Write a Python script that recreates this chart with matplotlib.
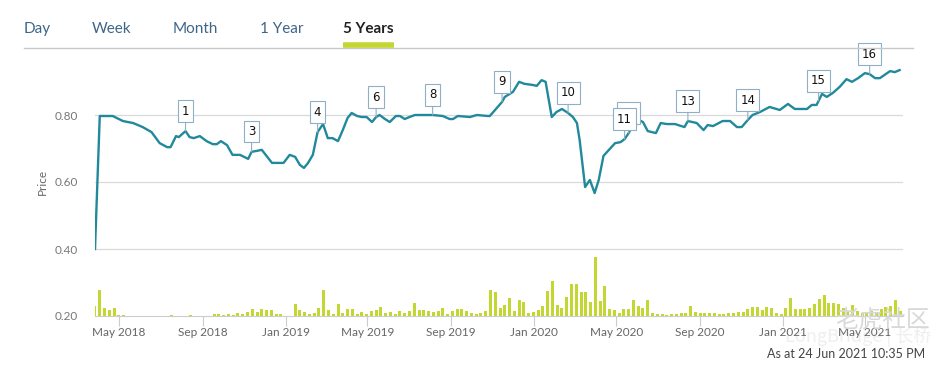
import numpy as np
import pandas as pd
import matplotlib
matplotlib.use("Agg")
import matplotlib.pyplot as plt
import matplotlib.dates as mdates

plt.rcParams['font.family'] = ['Lato', 'Noto Sans CJK SC', 'DejaVu Sans']

# weekly-ish closing prices
price_dates = [
    "2018-03-27", "2018-04-03", "2018-04-22", "2018-05-07", "2018-05-22", "2018-06-05",
    "2018-06-18", "2018-06-30", "2018-07-11", "2018-07-16", "2018-07-24", "2018-07-28",
    "2018-08-07", "2018-08-13", "2018-08-19", "2018-08-28", "2018-09-07", "2018-09-16",
    "2018-09-22", "2018-09-28", "2018-10-07", "2018-10-15", "2018-10-26", "2018-11-07",
    "2018-11-12", "2018-11-20", "2018-11-27", "2018-12-12", "2018-12-24", "2018-12-29",
    "2019-01-07", "2019-01-15", "2019-01-22", "2019-01-28", "2019-02-03", "2019-02-10",
    "2019-02-17", "2019-02-25", "2019-03-04", "2019-03-11", "2019-03-19", "2019-03-26",
    "2019-04-02", "2019-04-08", "2019-04-16", "2019-04-23", "2019-04-30", "2019-05-08",
    "2019-05-14", "2019-05-19", "2019-05-27", "2019-06-03", "2019-06-12", "2019-06-18",
    "2019-06-25", "2019-07-02", "2019-07-10", "2019-08-05", "2019-08-20", "2019-08-30",
    "2019-09-04", "2019-09-11", "2019-09-29", "2019-10-09", "2019-10-25", "2019-10-28",
    "2019-11-15", "2019-11-19", "2019-12-01", "2019-12-10", "2019-12-18", "2019-12-29",
    "2020-01-05", "2020-01-12", "2020-01-18", "2020-01-27", "2020-02-03", "2020-02-11",
    "2020-02-20", "2020-02-27", "2020-03-04", "2020-03-08", "2020-03-16", "2020-03-23",
    "2020-03-30", "2020-04-05", "2020-04-12", "2020-04-20", "2020-04-29", "2020-05-07",
    "2020-05-13", "2020-05-19", "2020-05-25", "2020-06-03", "2020-06-09", "2020-06-16",
    "2020-06-28", "2020-07-05", "2020-07-14", "2020-07-26", "2020-08-09", "2020-08-14",
    "2020-08-27", "2020-09-06", "2020-09-12", "2020-09-20", "2020-10-04", "2020-10-15",
    "2020-10-25", "2020-11-01", "2020-11-10", "2020-11-17", "2020-11-28", "2020-12-12",
    "2020-12-27", "2021-01-08", "2021-01-18", "2021-02-05", "2021-02-12", "2021-02-19",
    "2021-02-22", "2021-02-27", "2021-03-06", "2021-03-15", "2021-03-25", "2021-04-04",
    "2021-04-12", "2021-04-21", "2021-05-01", "2021-05-08", "2021-05-16", "2021-05-23",
    "2021-06-07", "2021-06-14", "2021-06-21",
]
price_values = [
    0.400, 0.797, 0.797, 0.782, 0.776, 0.764,
    0.749, 0.716, 0.704, 0.704, 0.737, 0.734,
    0.752, 0.734, 0.731, 0.737, 0.722, 0.713,
    0.713, 0.722, 0.710, 0.681, 0.681, 0.669,
    0.690, 0.693, 0.696, 0.657, 0.657, 0.657,
    0.681, 0.675, 0.651, 0.642, 0.657, 0.681,
    0.749, 0.773, 0.731, 0.731, 0.722, 0.755,
    0.791, 0.806, 0.797, 0.794, 0.794, 0.779,
    0.794, 0.800, 0.788, 0.779, 0.797, 0.797,
    0.788, 0.794, 0.800, 0.800, 0.797, 0.788,
    0.788, 0.797, 0.794, 0.800, 0.797, 0.797,
    0.839, 0.854, 0.869, 0.899, 0.893, 0.890,
    0.887, 0.904, 0.899, 0.794, 0.809, 0.818,
    0.806, 0.794, 0.776, 0.725, 0.585, 0.606,
    0.567, 0.606, 0.678, 0.696, 0.716, 0.719,
    0.728, 0.746, 0.770, 0.785, 0.779, 0.752,
    0.746, 0.776, 0.773, 0.773, 0.764, 0.782,
    0.776, 0.755, 0.770, 0.767, 0.782, 0.782,
    0.764, 0.764, 0.785, 0.800, 0.809, 0.824,
    0.815, 0.833, 0.818, 0.818, 0.830, 0.830,
    0.842, 0.863, 0.854, 0.866, 0.884, 0.907,
    0.899, 0.910, 0.925, 0.922, 0.910, 0.910,
    0.931, 0.928, 0.934,
]

# weekly volume (relative units), first week starts 2018-03-27
volume_start = "2018-03-27"
volume = [
    10, 26, 8, 6, 8, 1, 1, 0, 0, 0,
    0, 0, 0, 0, 0, 0, 1, 0, 0, 0,
    1, 0, 0, 0, 0, 2, 2, 1.5, 2, 1.5,
    3, 2, 4, 7, 4, 7, 6, 6, 2, 2,
    0, 0, 12, 6, 4, 2, 3, 8, 26, 6,
    2, 12, 3, 7, 7, 2, 4, 2, 5, 6,
    9, 3, 4, 2, 5, 3, 5, 13, 6, 6,
    5, 4, 5, 8, 2, 5, 7, 7, 5, 3,
    2, 3, 5, 26, 24, 8, 11, 18, 5, 16,
    14, 3, 4, 6, 10, 25, 35, 11, 8, 19,
    32, 32, 24, 24, 14, 59, 15, 30, 7, 6,
    3, 7, 7, 16, 10, 8, 16, 3, 2, 2,
    1, 2, 2, 3, 3, 10, 4, 3, 3, 3,
    3, 2, 2, 3, 3, 4, 4, 7, 9, 9,
    6, 9, 8, 3, 2, 8, 18, 7, 7, 7,
    8, 12, 17, 21, 13, 13, 12, 8, 5, 11,
    5, 3, 3, 5, 4, 7, 9, 10, 16, 5,
]

# "12" sits behind "11" in the original, its number hidden
marker_labels = ["1", "3", "4", "6", "8", "9", "10", "12", "11", "13", "14", "15", "16"]
marker_dates = ["2018-08-07", "2018-11-12", "2019-02-17", "2019-05-14", "2019-08-05",
                "2019-11-15", "2020-02-20", "2020-05-19", "2020-05-13", "2020-08-14",
                "2020-11-10", "2021-02-22", "2021-05-08"]
hidden_labels = ["12"]

tabs = ["Day", "Week", "Month", "1 Year", "5 Years"]
tab_x = [24, 92, 173, 260, 343]

xtick_dates = ["2018-05-01", "2018-09-01", "2019-01-01", "2019-05-01", "2019-09-01",
               "2020-01-01", "2020-05-01", "2020-09-01", "2021-01-01", "2021-05-01"]

W, H = 942, 375
fig = plt.figure(figsize=(W / 100, H / 100), dpi=100)

def fx(px):
    return px / W

def fy(py):
    return 1 - py / H

left, right, top, bottom = 95, 903, 48, 316
ax = fig.add_axes([fx(left), fy(bottom), fx(right - left), fy(top) - fy(bottom)])
axv = ax.twinx()
ax.set_zorder(axv.get_zorder() + 1)
ax.patch.set_visible(False)

pd_dates = pd.to_datetime(price_dates)
vol_dates = pd.date_range(volume_start, periods=len(volume), freq="7D")

axv.bar(vol_dates, volume, width=4.4, color="#c3d631", linewidth=0)
axv.set_ylim(0, bottom - top)
axv.axis("off")

ax.plot(pd_dates, price_values, color="#21899c", lw=1.7, solid_joinstyle="round")

ax.set_ylim(0.2, 1.0)
ax.set_xlim(pd.Timestamp("2018-03-27"), pd.Timestamp("2021-06-26"))
ax.set_yticks([0.2, 0.4, 0.6, 0.8])
ax.set_yticklabels(["0.20", "0.40", "0.60", "0.80"])
for v in [0.4, 0.6, 0.8]:
    ax.axhline(v, color="#d9d9d9", lw=0.9, zorder=0)

ax.set_xticks(pd.to_datetime(xtick_dates))
ax.xaxis.set_major_formatter(mdates.DateFormatter("%b %Y"))
ax.tick_params(axis="x", length=7, color="#cccccc", labelcolor="#666666",
               labelsize=8.5, pad=1)
ax.tick_params(axis="y", length=0, labelcolor="#777777", labelsize=8.5, pad=12)
for s in ["top", "right", "left"]:
    ax.spines[s].set_visible(False)
ax.spines["bottom"].set_color("#cccccc")
ax.set_ylabel("Price", color="#666666", fontsize=8.5, labelpad=5)

# event markers
for lab, d in zip(marker_labels, marker_dates):
    i = price_dates.index(d)
    ax.annotate(lab, xy=(pd_dates[i], price_values[i]), xytext=(0, 20),
                textcoords="offset pixels", ha="center", va="center",
                fontsize=8.5, family="DejaVu Sans",
                color="white" if lab in hidden_labels else "#111111",
                bbox=dict(boxstyle="square,pad=0.35", fc="white", ec="#8fb0c4", lw=0.8),
                arrowprops=dict(arrowstyle="-", color="#8fb0c4", lw=0.8,
                                shrinkA=0, shrinkB=0),
                annotation_clip=False, zorder=5)

# tabs
for t, x in zip(tabs, tab_x):
    bold = t == "5 Years"
    fig.text(fx(x), fy(29), t, ha="left", va="center", fontsize=11,
             color="#222222" if bold else "#3f6687",
             fontweight="bold" if bold else "normal")
fig.add_artist(plt.Line2D([fx(24), fx(913)], [fy(48), fy(48)], color="#c8c8c8", lw=1))
fig.add_artist(plt.Line2D([fx(343), fx(394)], [fy(45), fy(45)], color="#c3d631", lw=4,
                          solid_capstyle="butt"))

# watermark
fig.text(fx(835), fy(321), "老虎社区", fontsize=17, color="#d8d8d8",
         family=["Noto Sans CJK SC"], va="center")
fig.text(fx(785), fy(337), "LongBridge | 长桥", fontsize=13, color="#efefef",
         family=["Noto Sans CJK SC"], va="center", zorder=0)

fig.text(fx(925), fy(354), "As at 24 Jun 2021 10:35 PM", ha="right", va="center",
         fontsize=9, color="#444444")

fig.savefig("out.png", dpi=100, facecolor="white")
